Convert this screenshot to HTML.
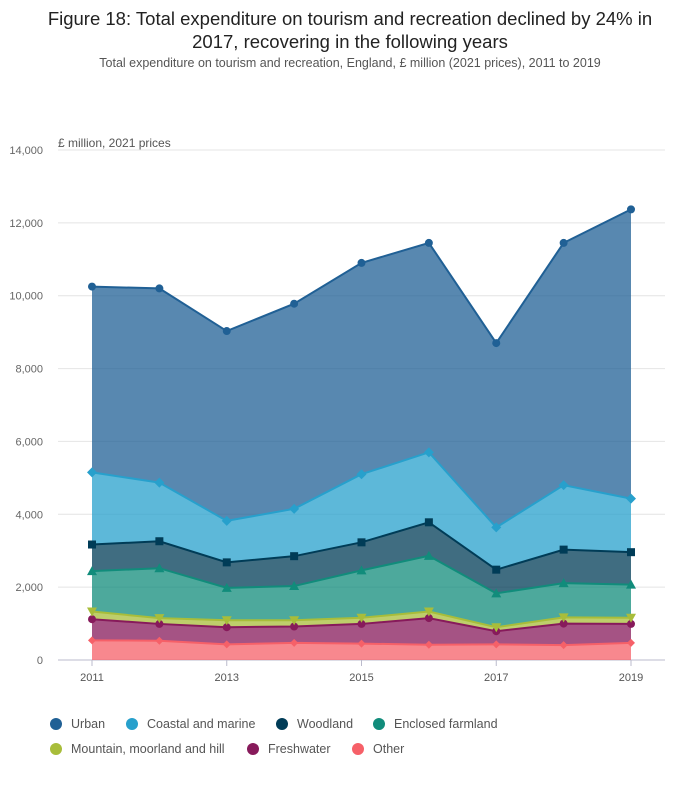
<!DOCTYPE html>
<html><head><meta charset="utf-8">
<style>
body{margin:0;background:#fff;font-family:"Liberation Sans",sans-serif;}
#wrap{position:relative;width:700px;height:810px;}
h1{position:absolute;top:7px;left:0;width:700px;margin:0;text-align:center;font-size:18.5px;font-weight:normal;color:#222;line-height:23px;}
.sub{position:absolute;top:56px;left:0;width:700px;text-align:center;font-size:12.5px;color:#555;}
.leg{position:absolute;font-size:12.5px;color:#555;display:flex;align-items:center;}
.leg i{display:inline-block;width:12px;height:12px;border-radius:50%;margin-right:9px;}
</style></head><body>
<div id="wrap">
<h1>Figure 18: Total expenditure on tourism and recreation declined by 24% in<br>2017, recovering in the following years</h1>
<div class="sub">Total expenditure on tourism and recreation, England, £ million (2021 prices), 2011 to 2019</div>
<svg id="chart" width="700" height="810" style="position:absolute;left:0;top:0"></svg>
<div class="leg" style="left:50px;top:717px"><i style="background:#206095"></i>Urban</div>
<div class="leg" style="left:126px;top:717px"><i style="background:#27a0cc"></i>Coastal and marine</div>
<div class="leg" style="left:276px;top:717px"><i style="background:#003c57"></i>Woodland</div>
<div class="leg" style="left:373px;top:717px"><i style="background:#118c7b"></i>Enclosed farmland</div>
<div class="leg" style="left:50px;top:742px"><i style="background:#a8bd3a"></i>Mountain, moorland and hill</div>
<div class="leg" style="left:247px;top:742px"><i style="background:#871a5b"></i>Freshwater</div>
<div class="leg" style="left:352px;top:742px"><i style="background:#f66068"></i>Other</div>
</div>
<script>
const years=[2011,2012,2013,2014,2015,2016,2017,2018,2019];
const other=[540,530,430,470,450,420,430,410,470];
const freshwater=[580,460,470,450,540,730,360,590,520];
const mountain=[210,160,190,170,170,180,110,170,170];
const enclosed=[1110,1370,890,940,1300,1530,930,940,910];
const woodland=[730,740,700,820,770,920,650,920,890];
const coastal=[1980,1610,1140,1300,1870,1920,1160,1770,1470];
const urban=[5100,5330,5210,5630,5800,5750,5060,6650,7940];
const yTicks=[0,2000,4000,6000,8000,10000,12000,14000];
const xTicks=[2011,2013,2015,2017,2019];

const NS="http://www.w3.org/2000/svg";
const svg=document.getElementById('chart');
const X=y=>92+(y-2011)*(631-92)/8;
const Y=v=>660-v*(510/14000);
function mk(t,a,p){const e=document.createElementNS(NS,t);for(const k in a)e.setAttribute(k,a[k]);(p||svg).appendChild(e);return e;}
yTicks.forEach(t=>{
 const l=mk('line',{x1:58,x2:665,y1:Y(t),y2:Y(t),stroke:t?'#e4e4e4':'#bbc',"stroke-width":1});
 
 
 const tx=mk('text',{x:43,y:Y(t)+4,"text-anchor":"end","font-size":11,fill:"#666"});tx.textContent=t.toLocaleString('en-GB');
 
 
});
const yt=mk('text',{x:58,y:147,"font-size":12,fill:"#555"});yt.textContent="£ million, 2021 prices";


xTicks.forEach(t=>{
 mk('line',{x1:X(t),x2:X(t),y1:660,y2:666,stroke:'#bbc'});
 const tx=mk('text',{x:X(t),y:681,"text-anchor":"middle","font-size":11,fill:"#555"});tx.textContent=t;
 
 
});
const series=[
 {n:'other',d:other,c:'#f66068',m:'diamond',s:4},
 {n:'freshwater',d:freshwater,c:'#871a5b',m:'circle',s:4},
 {n:'mountain',d:mountain,c:'#a8bd3a',m:'tridown',s:5},
 {n:'enclosed',d:enclosed,c:'#118c7b',m:'triup',s:5},
 {n:'woodland',d:woodland,c:'#003c57',m:'square',s:4},
 {n:'coastal',d:coastal,c:'#27a0cc',m:'diamond',s:5},
 {n:'urban',d:urban,c:'#206095',m:'circle',s:4}];
let base=years.map(()=>0);
const layers=[];
series.forEach(s=>{
 const top=base.map((b,i)=>b+s.d[i]);
 layers.push({s,top,base:base.slice()});
 base=top;
});
const ag=mk('g',{}),lg=mk('g',{});
layers.slice().reverse().forEach(L=>{
 let d='M'+years.map((y,i)=>X(y)+','+Y(L.top[i])).join('L');
 d+='L'+years.slice().reverse().map((y,j)=>X(y)+','+Y(L.base[years.length-1-j])).join('L')+'Z';
 const a=mk('path',{d,fill:L.s.c,"fill-opacity":0.75},ag);
 
 
});
layers.forEach(L=>{
 const ln=mk('polyline',{points:years.map((y,i)=>X(y)+','+Y(L.top[i])).join(' '),fill:'none',stroke:L.s.c,"stroke-width":2},lg);
 
 
 years.forEach((y,i)=>{
  const cx=X(y),cy=Y(L.top[i]),r=L.s.s;let e;
  if(L.s.m==='circle')e=mk('circle',{cx,cy,r},lg);
  else if(L.s.m==='square')e=mk('rect',{x:cx-r,y:cy-r,width:2*r,height:2*r},lg);
  else if(L.s.m==='diamond')e=mk('path',{d:`M${cx},${cy-r}L${cx+r},${cy}L${cx},${cy+r}L${cx-r},${cy}Z`},lg);
  else if(L.s.m==='triup')e=mk('path',{d:`M${cx},${cy-r}L${cx+r},${cy+r*0.8}L${cx-r},${cy+r*0.8}Z`},lg);
  else e=mk('path',{d:`M${cx},${cy+r}L${cx+r},${cy-r*0.8}L${cx-r},${cy-r*0.8}Z`},lg);
  e.setAttribute('fill',L.s.c);
  
  
 });
});
</script>
</body></html>
